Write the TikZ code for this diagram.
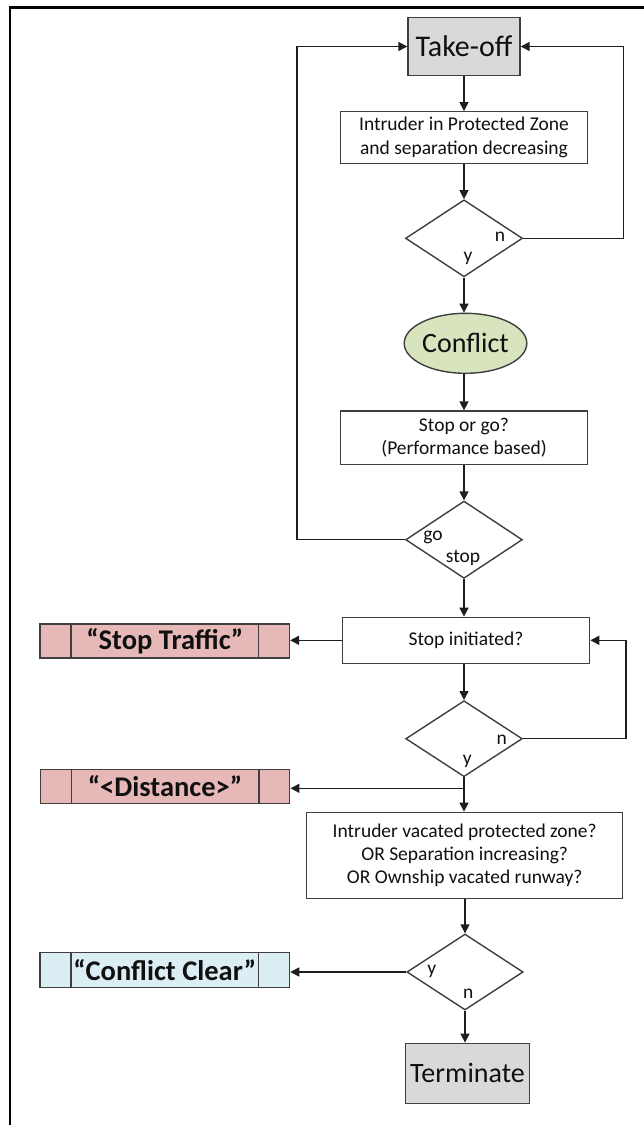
\documentclass[tikz,border=0pt]{standalone}
\usepackage{fontspec}
\setmainfont{Carlito}
\usetikzlibrary{shapes.geometric,arrows.meta,calc}
\definecolor{greyfill}{HTML}{D9D9D9}
\definecolor{greenfill}{HTML}{D7E4BD}
\definecolor{pinkfill}{HTML}{E6B9B8}
\definecolor{bluefill}{HTML}{DBEEF4}
\definecolor{edgec}{HTML}{3F3F3F}
\definecolor{linec}{HTML}{1E1E1E}
\definecolor{txt}{HTML}{101010}
\begin{document}
\begin{tikzpicture}[x=1pt,y=-1pt,
  box/.style={draw=edgec,line width=1.4pt,rectangle,inner sep=0pt,align=center,
    font=\fontsize{19.5}{23.3}\selectfont,text=txt},
  dia/.style={draw=edgec,line width=1.4pt,diamond,inner sep=0pt},
  lab/.style={font=\fontsize{19.5}{23}\selectfont,text=txt,inner sep=0pt},
  proc/.style={draw=edgec,line width=1.4pt,rectangle,inner sep=0pt,
    minimum width=249.5pt,minimum height=34pt,
    font=\bfseries\fontsize{28.5}{30}\selectfont,text=txt},
  conn/.style={draw=linec,line width=1.5pt,-{Triangle[length=9pt,width=9pt]}},
  plain/.style={draw=linec,line width=1.5pt},
  sub/.style={draw=edgec,line width=1.4pt},
]
\useasboundingbox (0,0) rectangle (643,1125);
\fill[white] (0,0) rectangle (643,1125);
% outer frame
\draw[line width=2.5pt,black] (10,1126) -- (10,7.5) -- (644,7.5);

% main column
\node[box,fill=greyfill,minimum width=112pt,minimum height=58pt,
  font=\fontsize{30}{32}\selectfont] (takeoff) at (464,46.5) {Take-off};
\node[box,minimum width=246.5pt,minimum height=51.5pt] (intr) at (464,137.5)
  {Intruder in Protected Zone\\and separation decreasing};
\node[dia,minimum width=117pt,minimum height=77pt] (d1) at (464,238.3) {};
\node[lab] (d1n) at (500,237) {n};
\node[lab] (d1y) at (468,258) {y};
\node[draw=edgec,line width=1.4pt,ellipse,fill=greenfill,inner sep=0pt,
  minimum width=122pt,minimum height=60pt,text=txt,
  font=\fontsize{28}{30}\selectfont] (conflict) at (465.5,343.3) {Conflict};
\node[box,minimum width=247.5pt,minimum height=53.3pt] (stopgo) at (464,437.7)
  {Stop or go?\\(Performance based)};
\node[dia,minimum width=116.7pt,minimum height=77.3pt] (d2) at (464,539.7) {};
\node[lab] (d2go) at (433,537) {go};
\node[lab] (d2stop) at (463,558) {stop};
\node[box,minimum width=247.3pt,minimum height=46pt] (stopinit) at (466,640.3)
  {Stop initiated?};
\node[dia,minimum width=116.6pt,minimum height=76pt] (d3) at (464,738.7) {};
\node[lab] (d3n) at (501.7,740) {n};
\node[lab] (d3y) at (467.3,761.7) {y};
\node[box,minimum width=316pt,minimum height=86pt] (box4) at (464.7,855.3)
  {Intruder vacated protected zone?\\OR Separation increasing?\\OR Ownship vacated runway?};
\node[dia,minimum width=116.3pt,minimum height=76pt] (d4) at (465,972) {};
\node[lab] (d4y) at (431.7,971.7) {y};
\node[lab] (d4n) at (468.3,993.3) {n};
\node[box,fill=greyfill,minimum width=124.3pt,minimum height=60pt,
  font=\fontsize{28}{30}\selectfont] (term) at (467.5,1073.3) {Terminate};

% left process boxes
\node[proc,fill=pinkfill] (stoptraffic) at (164.7,641) {“Stop Traffic”};
\node[proc,fill=pinkfill] (distance) at (165,786.3) {“\textless Distance\textgreater”};
\node[proc,fill=bluefill,minimum height=35.4pt] (clear) at (164.8,970) {“Conflict Clear”};
\foreach \n in {stoptraffic,distance,clear}{
  \draw[sub] ($(\n.north west)+(31.7,0)$) -- ($(\n.south west)+(31.7,0)$);
  \draw[sub] ($(\n.north east)+(-31.5,0)$) -- ($(\n.south east)+(-31.5,0)$);
}

% coordinates for loops
\coordinate (lp) at (297,46.5);
\coordinate (rp) at (623.5,46.5);
\coordinate (rp2) at (626,640.3);
\coordinate (jn) at (464,788.3);

% connectors
\draw[conn] (takeoff) -- (intr);
\draw[conn] (intr) -- (d1);
\draw[conn] (d1.south) -- (d1.south |- conflict.north);
\draw[conn] (conflict.south -| d1.south) -- (stopgo.north -| d1.south);
\draw[conn] (stopgo) -- (d2);
\draw[conn] (d2.south) -- (d2.south |- stopinit.north);
\draw[conn] (stopinit.south -| d3.north) -- (d3.north);
\draw[plain] (d3.south) -- (jn);
\draw[conn] (jn) -- (box4.north -| jn);
\draw[conn] (box4.south -| d4.north) -- (d4.north);
\draw[conn] (d4.south) -- (d4.south |- term.north);

\draw[conn] (d1.east) -| (rp) -- (takeoff.east);
\draw[conn] (d2.west) -| (lp) -- (takeoff.west);
\draw[conn] (d3.east) -| (rp2) -- (stopinit.east);

\draw[conn] (stopinit.west) -- (stopinit.west -| stoptraffic.east);
\draw[conn] (jn) -- (jn -| distance.east);
\draw[conn] (d4.west) -- (d4.west -| clear.east);
\end{tikzpicture}
\end{document}
